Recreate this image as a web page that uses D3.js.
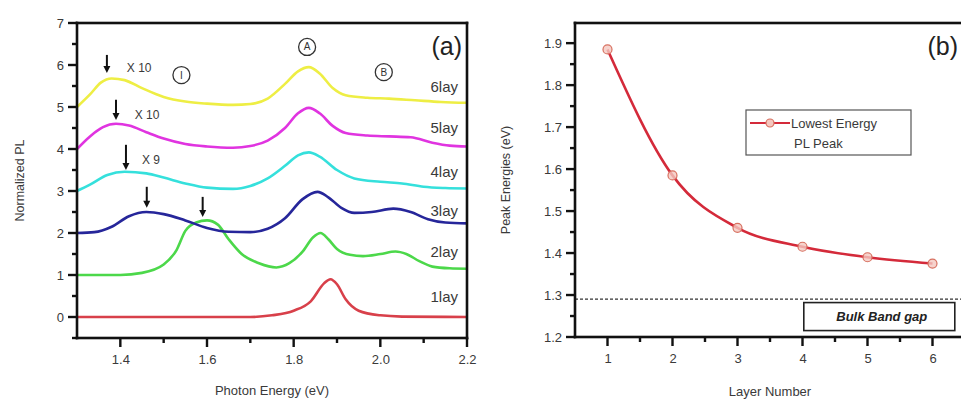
<!DOCTYPE html>
<html><head><meta charset="utf-8">
<script src="https://cdn.jsdelivr.net/npm/d3@7"></script>
<style>body{margin:0;background:#fff}svg{display:block;font-family:"Liberation Sans",Arial,sans-serif}</style>
</head><body><svg id="c" width="961" height="405"></svg>
<script>
// ---------- Panel (a) data ----------
const layers = ["1lay","2lay","3lay","4lay","5lay","6lay"];
const e1 = [1.30,1.70,1.75,1.80,1.84,1.87,1.885,1.90,1.92,1.95,2.00,2.05,2.20];
const pl1 = [0,0,0.04,0.15,0.38,0.8,0.9,0.78,0.42,0.15,0.04,0.01,0];
const e2 = [1.30,1.40,1.45,1.50,1.53,1.55,1.575,1.60,1.625,1.65,1.68,1.72,1.76,1.79,1.82,1.845,1.862,1.88,1.90,1.93,1.96,2.00,2.035,2.06,2.09,2.12,2.16,2.20];
const pl2 = [1.0,1.0,1.05,1.25,1.6,2.05,2.25,2.3,2.2,1.85,1.5,1.28,1.18,1.28,1.55,1.9,2.0,1.85,1.62,1.48,1.45,1.5,1.56,1.5,1.33,1.2,1.16,1.15];
const e3 = [1.30,1.34,1.38,1.42,1.46,1.50,1.55,1.60,1.65,1.70,1.74,1.78,1.82,1.855,1.88,1.91,1.94,1.98,2.03,2.07,2.11,2.15,2.20];
const pl3 = [2.0,2.02,2.15,2.4,2.5,2.45,2.3,2.12,2.03,2.02,2.1,2.35,2.8,2.98,2.85,2.6,2.48,2.5,2.58,2.5,2.33,2.25,2.23];
const e4 = [1.30,1.33,1.37,1.41,1.46,1.50,1.55,1.60,1.66,1.70,1.74,1.78,1.81,1.835,1.86,1.90,1.94,2.00,2.05,2.10,2.15,2.20];
const pl4 = [3.0,3.15,3.38,3.46,3.42,3.32,3.18,3.08,3.05,3.12,3.3,3.6,3.85,3.92,3.82,3.5,3.3,3.22,3.18,3.1,3.07,3.06];
const e5 = [1.30,1.33,1.36,1.39,1.42,1.46,1.50,1.55,1.60,1.66,1.70,1.74,1.78,1.81,1.835,1.86,1.89,1.92,1.97,2.02,2.07,2.12,2.16,2.20];
const pl5 = [4.0,4.3,4.52,4.6,4.56,4.4,4.25,4.12,4.06,4.03,4.07,4.2,4.5,4.85,4.98,4.85,4.55,4.38,4.32,4.3,4.28,4.15,4.08,4.06];
const e6 = [1.30,1.33,1.355,1.38,1.41,1.45,1.50,1.55,1.60,1.66,1.70,1.74,1.78,1.81,1.835,1.86,1.89,1.92,1.97,2.02,2.08,2.14,2.20];
const pl6 = [5.0,5.3,5.58,5.68,5.64,5.45,5.24,5.13,5.08,5.05,5.07,5.2,5.55,5.85,5.95,5.8,5.45,5.28,5.22,5.2,5.16,5.12,5.1];
const layerLabelY = [0.48,1.55,2.52,3.45,4.5,5.48];
const xTicksA = [1.4,1.6,1.8,2.0,2.2];
const xMinorA = [1.5,1.7,1.9,2.1];
const yTicksA = [0,1,2,3,4,5,6,7];
const yMinorA = [-0.5,0.5,1.5,2.5,3.5,4.5,5.5,6.5];
// annotation arrows [x, yTop, yBottom] and texts
const arrowsA = [[1.369,6.24,5.81],[1.39,5.17,4.69],[1.413,4.1,3.5],[1.461,3.1,2.6],[1.59,2.86,2.38]];
const scaleNotes = [["X 10",1.415,5.93],["X 10",1.433,4.81],["X 9",1.45,3.74]];
const circled = [["I",1.541,5.76],["A",1.831,6.43],["B",2.008,5.83]];

// ---------- Panel (b) data ----------
const layerNum = [1,2,3,4,5,6];
const peakE = [1.885,1.585,1.46,1.415,1.39,1.375];
const bulkGap = 1.29;
const xTicksB = [1,2,3,4,5,6];
const xMinorB = [1.5,2.5,3.5,4.5,5.5];
const yTicksB = [1.2,1.3,1.4,1.5,1.6,1.7,1.8,1.9];
const yMinorB = [1.25,1.35,1.45,1.55,1.65,1.75,1.85];

const svg = d3.select("#c");
const colors = ["#d8404a","#4cd84a","#26269a","#35e0dc","#e034e0","#eeee44"];
const txt = "#3a3a3a";
const ink = "#111";
const AW = 2.6; // axis line width

function drawAxes(g, x, y, box, xt, xm, yt, ym, xfmt, yfmt){
  // labels via d3 axes (lines hidden), heavy lines via filled rects
  const gx = g.append("g").attr("transform",`translate(0,${box.b})`)
    .call(d3.axisBottom(x).tickValues(xt).tickSize(8).tickPadding(9).tickFormat(xfmt));
  const gy = g.append("g").attr("transform",`translate(${box.l},0)`)
    .call(d3.axisLeft(y).tickValues(yt).tickSize(8).tickPadding(5).tickFormat(yfmt));
  [gx,gy].forEach(a=>{
    a.select(".domain").attr("stroke","none");
    a.selectAll(".tick line").attr("stroke","none");
    a.selectAll(".tick text").attr("fill",txt).attr("font-size",13).attr("font-family","Liberation Sans, Arial, sans-serif");
  });
  const fr = g.append("g").attr("fill",ink);
  // x ticks
  fr.selectAll(null).data(xt.map(v=>[v,8]).concat(xm.map(v=>[v,4]))).join("rect")
    .attr("x",d=>x(d[0])-1.2).attr("y",box.b).attr("width",2.4).attr("height",d=>d[1]+1);
  fr.selectAll(null).data(yt.map(v=>[v,8]).concat(ym.map(v=>[v,4]))).join("rect")
    .attr("x",d=>box.l-d[1]-1).attr("y",d=>y(d[0])-1.2).attr("width",d=>d[1]+1).attr("height",2.4);
  // frame: bottom, left, top
  fr.append("rect").attr("x",box.l-AW/2).attr("y",box.b-AW/2).attr("width",box.r-box.l+AW).attr("height",AW);
  fr.append("rect").attr("x",box.l-AW/2).attr("y",box.t-AW/2).attr("width",AW).attr("height",box.b-box.t+AW);
  fr.append("rect").attr("x",box.l-AW/2).attr("y",box.t-AW/2).attr("width",box.r-box.l+AW).attr("height",AW);
  fr.append("rect").attr("x",box.r-AW/2).attr("y",box.t-AW/2).attr("width",AW).attr("height",box.b-box.t+AW);
}

// ===== Panel (a) =====
const A = {l:77,r:467,t:23,b:338};
const xa = d3.scaleLinear().domain([1.3,2.2]).range([A.l,A.r]);
const ya = d3.scaleLinear().domain([-0.5,7]).range([A.b,A.t]);
const ga = svg.append("g");
const series = [[e1,pl1],[e2,pl2],[e3,pl3],[e4,pl4],[e5,pl5],[e6,pl6]];
const lineA = d3.line().x(d=>xa(d[0])).y(d=>ya(d[1])).curve(d3.curveMonotoneX);
series.forEach((s,i)=>{
  const pts = s[0].map((x,j)=>[x,s[1][j]]);
  ga.append("path").attr("d",lineA(pts)).attr("fill","none").attr("stroke",colors[i]).attr("stroke-width",2.6);
});
drawAxes(ga,xa,ya,A,xTicksA,xMinorA,yTicksA,yMinorA,d3.format(".1f"),d3.format("d"));
ga.append("text").attr("transform",`translate(24,${(A.t+A.b)/2}) rotate(-90)`).attr("text-anchor","middle").attr("font-size",12.5).attr("fill",txt).text("Normalized PL");
ga.append("text").attr("x",(A.l+A.r)/2).attr("y",395).attr("text-anchor","middle").attr("font-size",13).attr("fill",txt).text("Photon Energy (eV)");
ga.append("text").attr("x",462).attr("y",55).attr("text-anchor","end").attr("font-size",25).attr("fill","#222").text("(a)");
layers.forEach((n,i)=>ga.append("text").attr("x",458).attr("y",ya(layerLabelY[i])).attr("dy","0.35em").attr("text-anchor","end").attr("font-size",15).attr("fill",txt).text(n));
arrowsA.forEach(a=>{
  const x = xa(a[0]), y1 = ya(a[1]), y2 = ya(a[2]);
  ga.append("line").attr("x1",x).attr("x2",x).attr("y1",y1).attr("y2",y2-5).attr("stroke",ink).attr("stroke-width",2);
  ga.append("path").attr("d",`M${x-3.5},${y2-7}L${x+3.5},${y2-7}L${x},${y2}Z`).attr("fill",ink);
});
scaleNotes.forEach(s=>ga.append("text").attr("x",xa(s[1])).attr("y",ya(s[2])).attr("dy","0.35em").attr("font-size",12).attr("fill",txt).text(s[0]));
circled.forEach(c=>{
  ga.append("circle").attr("cx",xa(c[1])).attr("cy",ya(c[2])).attr("r",8.5).attr("fill","none").attr("stroke","#333").attr("stroke-width",1.3);
  ga.append("text").attr("x",xa(c[1])).attr("y",ya(c[2])).attr("dy","0.35em").attr("text-anchor","middle").attr("font-size",10).attr("fill","#333").text(c[0]);
});

// ===== Panel (b) =====
const B = {l:575,r:965,t:23,b:337};
const xb = d3.scaleLinear().domain([0.5,6.5]).range([B.l,B.r]);
const yb = d3.scaleLinear().domain([1.2,1.948]).range([B.b,B.t]);
const gb = svg.append("g");
gb.append("line").attr("x1",B.l).attr("x2",B.r).attr("y1",yb(bulkGap)).attr("y2",yb(bulkGap)).attr("stroke","#333").attr("stroke-width",1.2).attr("stroke-dasharray","3,2");
gb.append("rect").attr("x",xb(4.02)).attr("y",yb(1.282)).attr("width",151).attr("height",28).attr("fill","#fff").attr("stroke","#222").attr("stroke-width",1.6);
gb.append("text").attr("x",xb(4.02)+78).attr("y",yb(1.282)+14).attr("dy","0.35em").attr("text-anchor","middle").attr("font-size",13).attr("font-weight","bold").attr("font-style","italic").attr("fill","#222").text("Bulk Band gap");
drawAxes(gb,xb,yb,B,xTicksB,xMinorB,yTicksB,yMinorB,d3.format("d"),d3.format(".1f"));
const lineB = d3.line().x((d,i)=>xb(layerNum[i])).y(d=>yb(d)).curve(d3.curveMonotoneX);
gb.append("path").attr("d",lineB(peakE)).attr("fill","none").attr("stroke","#d42a3a").attr("stroke-width",2.6);
gb.selectAll("circle.pt").data(peakE).join("circle").attr("class","pt")
  .attr("cx",(d,i)=>xb(layerNum[i])).attr("cy",d=>yb(d)).attr("r",4.5)
  .attr("fill","#f4c8c0").attr("fill-opacity",0.8).attr("stroke","#d77060").attr("stroke-width",1.2);
gb.append("text").attr("transform",`translate(510,${(B.t+B.b)/2}) rotate(-90)`).attr("text-anchor","middle").attr("font-size",12.5).attr("fill",txt).text("Peak Energies (eV)");
gb.append("text").attr("x",770).attr("y",396).attr("text-anchor","middle").attr("font-size",13).attr("fill",txt).text("Layer Number");
gb.append("text").attr("x",958).attr("y",55).attr("text-anchor","end").attr("font-size",25).attr("fill","#222").text("(b)");
// legend
const lg = gb.append("g").attr("transform","translate(746,110)");
lg.append("rect").attr("width",165).attr("height",45).attr("fill","#fff").attr("stroke","#555").attr("stroke-width",1.2);
lg.append("line").attr("x1",4).attr("x2",44).attr("y1",13).attr("y2",13).attr("stroke","#d42a3a").attr("stroke-width",2.2);
lg.append("circle").attr("cx",24).attr("cy",13).attr("r",4).attr("fill","#f4c8c0").attr("stroke","#d77060").attr("stroke-width",1.2);
lg.append("text").attr("x",45).attr("y",13).attr("dy","0.35em").attr("font-size",13).attr("fill",txt).text("Lowest Energy");
lg.append("text").attr("x",48).attr("y",33).attr("dy","0.35em").attr("font-size",13).attr("fill",txt).text("PL Peak");
</script></body></html>
